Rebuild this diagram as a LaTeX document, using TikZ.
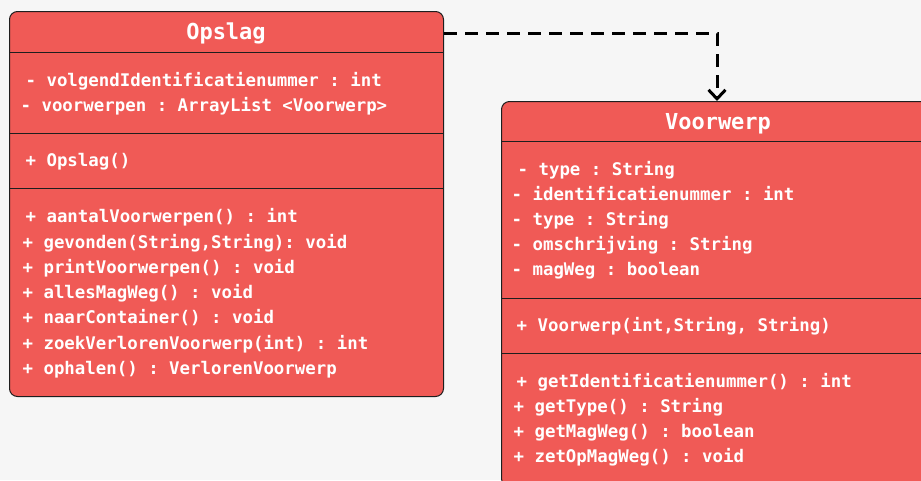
\documentclass[tikz,border=0pt]{standalone}
\usepackage{fontspec}
\setmonofont{DejaVu Sans Mono}
\usetikzlibrary{arrows.meta}
\definecolor{bg}{RGB}{246,246,246}
\definecolor{boxred}{RGB}{240,90,86}
\definecolor{edge}{RGB}{30,30,30}

\begin{document}
\begin{tikzpicture}[x=1pt,y=-1pt,
  classbox/.style={draw=edge, line width=1pt, fill=boxred, rounded corners=8pt,
    minimum width=434pt, minimum height=385pt, anchor=north west, inner sep=0pt},
  member/.style={anchor=base west, text=white, inner sep=0pt,
    font=\ttfamily\bfseries\fontsize{17.4}{17.4}\selectfont},
  ctitle/.style={anchor=base, text=white, inner sep=0pt,
    font=\ttfamily\bfseries\fontsize{22}{22}\selectfont},
  divider/.style={draw=edge, line width=1pt},
  dep/.style={draw=black, line width=3pt, dash pattern=on 13pt off 8pt,
    -{Straight Barb[length=9pt,width=17pt,line width=3pt]}}]

  % canvas
  \fill[bg] (0,0) rectangle (921,480);
  \useasboundingbox (0,0) rectangle (921,480);
  \clip (0,0) rectangle (921,480);

  % class Opslag
  \node[classbox] (opslag) at (9,11) {};
  \node[ctitle] (opslagtitle) at (226,39) {Opslag};
  \draw[divider] (9,52) -- (443,52);
  \draw[divider] (9,133) -- (443,133);
  \draw[divider] (9,188) -- (443,188);

  \node[member] (oa1) at (25.4,86) {- volgendIdentificatienummer : int};
  \node[member] (oa2) at (20.4,111) {- voorwerpen : ArrayList <Voorwerp>};
  \node[member] (oc1) at (25.4,166) {+ Opslag()};
  \node[member] (om1) at (25.4,222) {+ aantalVoorwerpen() : int};
  \node[member] (om2) at (22.4,248) {+ gevonden(String,String): void};
  \node[member] (om3) at (22.4,273) {+ printVoorwerpen() : void};
  \node[member] (om4) at (22.4,298) {+ allesMagWeg() : void};
  \node[member] (om5) at (22.4,323) {+ naarContainer() : void};
  \node[member] (om6) at (22.4,349) {+ zoekVerlorenVoorwerp(int) : int};
  \node[member] (om7) at (22.4,374) {+ ophalen() : VerlorenVoorwerp};

  % class Voorwerp
  \node[classbox] (voorwerp) at (501,101) {};
  \node[ctitle] (voorwerptitle) at (718,129) {Voorwerp};
  \draw[divider] (501,141) -- (935,141);
  \draw[divider] (501,298) -- (935,298);
  \draw[divider] (501,353) -- (935,353);

  \node[member] (va1) at (517.4,175) {- type : String};
  \node[member] (va2) at (511.4,200) {- identificatienummer : int};
  \node[member] (va3) at (511.4,225) {- type : String};
  \node[member] (va4) at (511.4,250) {- omschrijving : String};
  \node[member] (va5) at (511.4,275) {- magWeg : boolean};
  \node[member] (vc1) at (516.4,331) {+ Voorwerp(int,String, String)};
  \node[member] (vm1) at (516.4,387) {+ getIdentificatienummer() : int};
  \node[member] (vm2) at (513.4,412) {+ getType() : String};
  \node[member] (vm3) at (513.4,437) {+ getMagWeg() : boolean};
  \node[member] (vm4) at (513.4,462) {+ zetOpMagWeg() : void};

  % dependency Opslag -> Voorwerp
  \coordinate (bend) at (717,33);
  \draw[dep] ([yshift=-22pt]opslag.north east) -- (bend) -- (bend |- voorwerp.north);
\end{tikzpicture}
\end{document}
